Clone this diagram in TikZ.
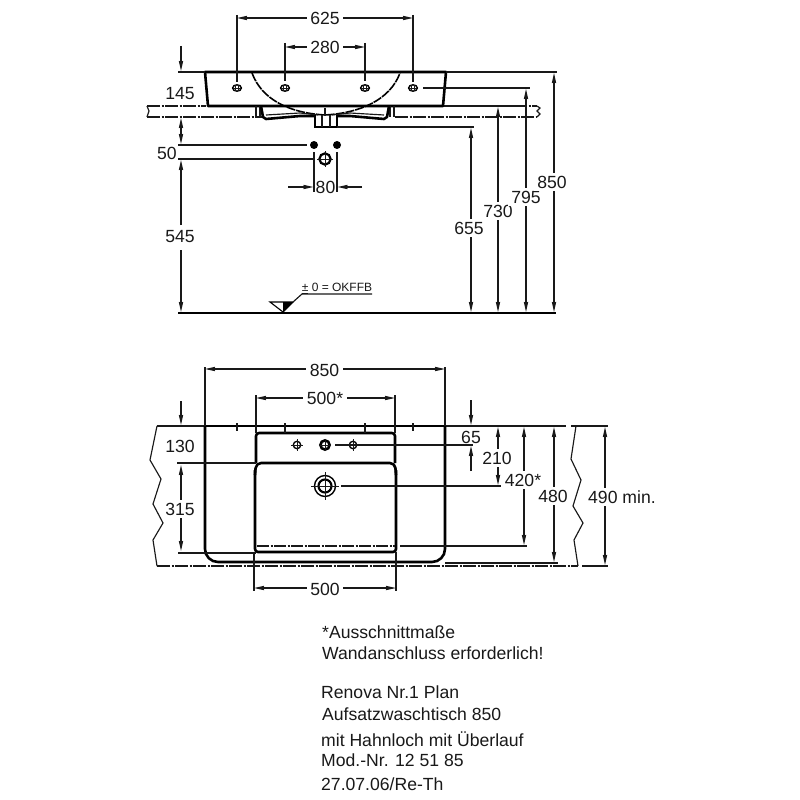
\documentclass[tikz,border=0pt]{standalone}
\usepackage{fontspec}
\setmainfont{Liberation Sans}
\usetikzlibrary{arrows.meta}
\tikzset{
  thinl/.style={line width=1.15pt,black!90},
  thickl/.style={line width=2.6pt,black,line join=round},
  hair/.style={line width=0.7pt,black!90},
  dimline/.style={thinl,{Stealth[length=10pt,width=4.2pt,inset=0.5pt]}-{Stealth[length=10pt,width=4.2pt,inset=0.5pt]}},
  arrowend/.style={thinl,-{Stealth[length=10pt,width=4.2pt,inset=0.5pt]}},
  chain/.style={line width=1.15pt,black!90,dash pattern=on 13pt off 1.5pt on 2pt off 1.5pt},
  lab/.style={font=\fontsize{17.6}{18}\selectfont,fill=white,inner xsep=3.5pt,inner ysep=2.5pt,text=black!90},
  plainlab/.style={font=\fontsize{17.6}{18}\selectfont,inner sep=1pt,text=black!90},
  note/.style={font=\fontsize{17.6}{18}\selectfont,anchor=west,inner sep=0pt,text=black!90},
  hole/.style={line width=1.4pt,black},
}
\begin{document}
\begin{tikzpicture}[x=1pt,y=-1pt]
\useasboundingbox (0,0) rectangle (800,800);
\fill[white] (0,0) rectangle (800,800);
% ===== upper view =====
% counter / wall lines
\draw[chain] (147,106) -- (206,106);
\draw[chain] (147,117) -- (262,117);
\draw[thinl] (147,106) -- (149,111) -- (147,117);
\draw[chain] (395,117) -- (537,117);
\draw[thinl] (443,106) -- (514,106);
\draw[chain] (514,106) -- (537,106);
\draw[thinl] (537,106) -- (540,108) -- (537,111) -- (540,114) -- (537,117);
% basin
\draw[thickl] (395,72) -- (446,72) -- (443,106) -- (208,106) -- (205,72) -- (395,72);
\draw[line width=1.6pt,black,dash pattern=on 9pt off 1pt] (252,73) .. controls (262,100) and (290,113) .. (325,115) .. controls (360,113) and (390,100) .. (400,73);
\draw[thinl] (325,108) -- (325,116);
% feet and trap
\draw[thinl] (256,106) -- (256,117) (260,106) -- (260,117);
\draw[thinl] (394,106) -- (394,117) (390,106) -- (390,117);
\draw[thickl] (261,106) -- (263,117) -- (266,119) -- (300,116) -- (315,116);
\draw[thickl] (389,106) -- (387,117) -- (384,119) -- (350,116) -- (337,116);
\draw[thinl] (266,115) -- (300,113) -- (318,115) (384,115) -- (350,113) -- (332,115);
\draw[line width=1.8pt,black] (315,115) -- (315,127) -- (337,127) -- (337,115);
\draw[thinl] (322,115) -- (322,127) (330,115) -- (330,127);
% tap holes
\foreach \n/\x in {a/237,b/285,c/365,d/413}{
  \draw[hole] (\x,88) ellipse (4.4 and 3.2);
  \draw[hair] (\x-4,88) -- (\x+4,88) (\x-1.5,85) -- (\x-1.5,91) (\x+1.5,85) -- (\x+1.5,91);
}
% dims top
\draw[thinl] (237,15) -- (237,82);
\draw[thinl] (413,15) -- (413,82);
\draw[thinl] (285,43) -- (285,81);
\draw[thinl] (365,43) -- (365,81);
\draw[dimline] (237,18) -- (413,18);
\node[lab] (d625) at (325,18.5) {625};
\draw[dimline] (285,47) -- (365,47);
\node[lab] (d280) at (325,47.5) {280};
% left dims
\draw[thinl] (178,72) -- (205,72);
\coordinate (a145t) at (181,46);
\draw[arrowend] (a145t) -- (181,71);
\node[plainlab] (d145) at (180,94) {145};
\draw[dimline] (181,118) -- (181,144);
\draw[thinl] (178,145) -- (307,145);
\draw[thinl] (178,159) -- (313,159);
\node[plainlab] (d50) at (167,153) {50};
\draw[arrowend] (181,225) -- (181,160);
\draw[arrowend] (181,250) -- (181,312);
\node[plainlab] (d545) at (180,237) {545};
\fill[black] (314,145) circle (4) (337,145) circle (4);
\draw[line width=2.2pt,black] (325,159) circle (5.6);
\draw[hair] (317,159) -- (333,159) (325,151) -- (325,167);
\draw[thinl] (314,152) -- (314,192) (337,152) -- (337,192);
\draw[arrowend] (288,187) -- (313.5,187);
\draw[arrowend] (362,187) -- (337.5,187);
\node[plainlab] (d80) at (325.5,187.5) {80};
% floor
\draw[line width=2.8pt,black] (178,313) -- (556,313);
\draw[line width=1.1pt,black] (270,302) -- (293,302) -- (283,312) -- cycle;
\fill[black] (283,302) -- (293,302) -- (283,312) -- cycle;
\draw[thinl] (293,302) -- (302,294) -- (372,294);
\node[font=\fontsize{12}{12}\selectfont,inner sep=0pt,text=black!90] (okffb) at (337,288.5) {\underbar{±} 0 = OKFFB};
% right dims
\draw[thinl] (337,127) -- (474,127);
\draw[thinl] (423,88) -- (530,88);
\draw[thinl] (446,72) -- (557,72);
\draw[dimline] (471,128) -- (471,312);
\node[lab] (d655) at (469,228) {655};
\draw[dimline] (498,107) -- (498,312);
\node[lab] (d730) at (498,211) {730};
\draw[dimline] (526,89) -- (526,312);
\node[lab] (d795) at (526,197) {795};
\draw[dimline] (554,73) -- (554,312);
\node[lab] (d850) at (552,182) {850};
% ===== lower view =====
\draw[thinl] (157,426) -- (205,426);
\draw[thinl] (445,426) -- (566,426) (571,426) -- (608,426);
\draw[chain] (157,566) -- (578,566);
\draw[thinl] (582,566) -- (608,566);
\draw[thinl] (157,426) -- (150,460) -- (161,479) -- (153,504) -- (163,523) -- (153,540) -- (157,566);
\draw[thinl] (576,426) -- (571,459) -- (581,480) -- (573,506) -- (583,523) -- (574,540) -- (578,566);
% body
\draw[thickl,rounded corners=13pt] (205,426) -- (205,562) -- (445,562) -- (445,426);
\draw[thickl] (205,426) -- (445,426);
% recess
\draw[thickl,rounded corners=3pt] (256,463) -- (256,433) -- (395,433) -- (395,463);
\draw[thickl,rounded corners=5pt] (255,475) -- (256,463) -- (395,463) -- (396,475);
\draw[thickl,rounded corners=3pt] (255,470) -- (255,552) -- (396,552) -- (396,470);
\draw[thinl,dash pattern=on 12pt off 1.5pt on 2pt off 1.5pt] (257,546) -- (395,546);
\draw[thinl] (400,546) -- (527,546);
% ticks
\draw[thinl] (237,423) -- (237,431) (413,423) -- (413,431);
\draw[thinl] (285,423) -- (285,433) (365,423) -- (365,433);
% holes
\foreach \x in {297,353}{
  \draw[line width=1.3pt,black] (\x,445) circle (3.7);
  \draw[hair] (\x-6,445) -- (\x+6,445) (\x,439) -- (\x,451);
}
\draw[line width=2.6pt,black] (325,445) circle (4.6);
\draw[hair] (319,445) -- (331,445) (325,439) -- (325,451);
\draw[line width=1.4pt,black] (325,486) circle (10.5);
\draw[line width=2.1pt,black] (325,486) circle (6.5);
\draw[hair] (311,486) -- (339,486) (325,472) -- (325,500);
\draw[thinl] (335,445) -- (473,445);
\draw[thinl] (341,486) -- (501,486);
\draw[thinl] (445,563) -- (558,563);
% lower dims top
\draw[thinl] (205,367) -- (205,426) (445,367) -- (445,426);
\draw[dimline] (205,369) -- (445,369);
\node[lab] (d850b) at (324.5,370) {850};
\draw[thinl] (256,395) -- (256,433) (395,395) -- (395,433);
\draw[dimline] (256,398) -- (395,398);
\node[lab] (d500s) at (325,398) {500*};
\draw[thinl] (254,552) -- (254,591) (396,552) -- (396,591);
\draw[dimline] (254,588) -- (396,588);
\node[lab] (d500) at (325,589) {500};
% lower dims left
\draw[thinl] (177,463) -- (256,463);
\draw[thinl] (178,553) -- (256,553);
\draw[arrowend] (181,401) -- (181,425);
\node[plainlab] (d130) at (180,446) {130};
\draw[dimline] (181,465) -- (181,551);
\node[lab] (d315) at (180,509) {315};
% lower dims right
\draw[arrowend] (471,400) -- (471,425);
\draw[arrowend] (471,471) -- (471,446);
\node[plainlab] (d65) at (471,437) {65};
\draw[dimline] (498,427) -- (498,485);
\node[lab] (d210) at (497,458) {210};
\draw[dimline] (524,427) -- (524,545);
\node[lab] (d420) at (523,480) {420*};
\draw[dimline] (554,427) -- (554,562);
\node[lab] (d480) at (553,496) {480};
\draw[dimline] (605,427) -- (605,565);
\node[lab,anchor=west] (d490) at (584.5,497) {490 min.};
% notes
\node[note] (n1) at (322,632) {*Ausschnittmaße};
\node[note] (n2) at (322,653) {Wandanschluss erforderlich!};
\node[note] (n3) at (321,692) {Renova Nr.1 Plan};
\node[note] (n4) at (322,714) {Aufsatzwaschtisch 850};
\node[note] (n5) at (321,739) {mit Hahnloch mit Überlauf};
\node[note] (n6) at (321,760) {Mod.-Nr. 12 51 85};
\node[note] (n7) at (321,784) {27.07.06/Re-Th};
\end{tikzpicture}
\end{document}
